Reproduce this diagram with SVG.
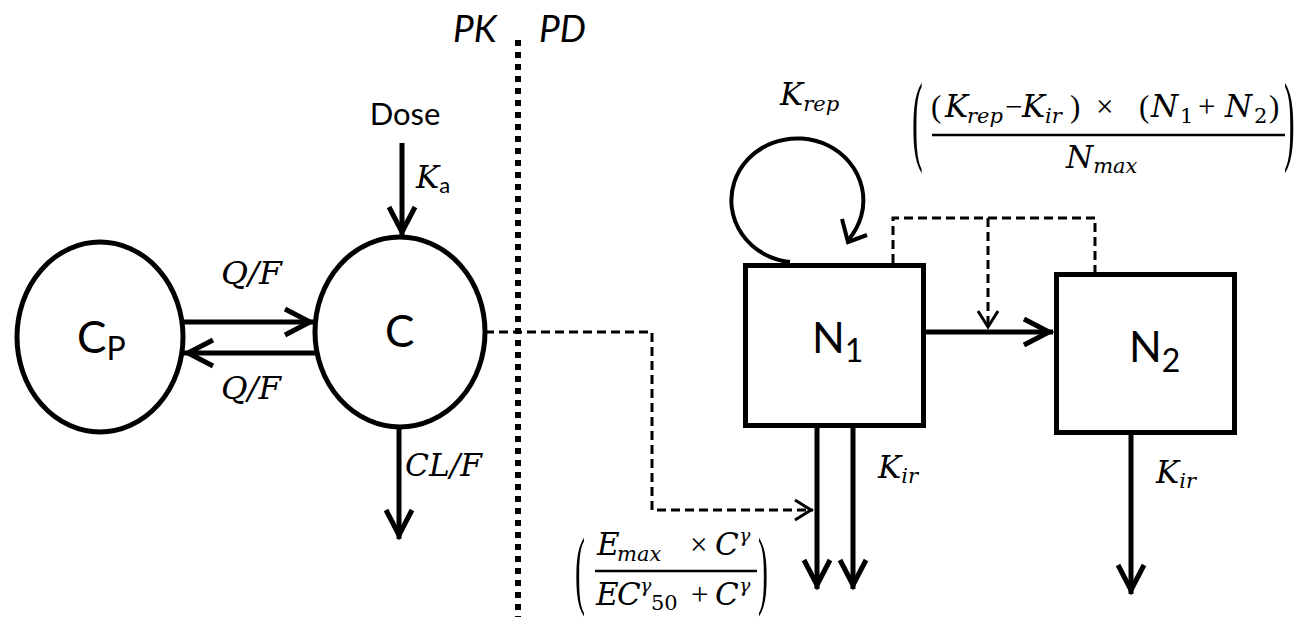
<svg xmlns="http://www.w3.org/2000/svg" width="1296" height="617" viewBox="0 0 1296 617">
<style>
.ln{fill:none;stroke:#000;stroke-width:5}
.dash{fill:none;stroke:#000;stroke-width:3;stroke-dasharray:9 5}
.dot{fill:none;stroke:#000;stroke-width:6;stroke-dasharray:6 6}
.shape{fill:#fff;stroke:#000;stroke-width:5}
.lbl{font-family:Lato,"Open Sans",sans-serif;fill:#000}
.m{font-family:"DejaVu Serif","Liberation Serif",serif;font-style:italic;fill:#000;font-size:31px}
.p{font-family:"Liberation Serif",serif;font-style:normal;fill:#000}
.u{font-style:normal}
.s{font-size:21px}
</style>
<defs>
<marker id="ah" viewBox="-30 -18 38 36" refX="4" refY="0" markerWidth="38" markerHeight="36" markerUnits="userSpaceOnUse" orient="auto">
<path d="M-25,-13 L0,0 L-25,13" fill="none" stroke="#000" stroke-width="5"/>
</marker>
<marker id="ahs" viewBox="-22 -14 28 28" refX="2" refY="0" markerWidth="28" markerHeight="28" markerUnits="userSpaceOnUse" orient="auto">
<path d="M-16,-10 L0,0 L-16,10" fill="none" stroke="#000" stroke-width="3"/>
</marker>
</defs>
<rect width="1296" height="617" fill="#fff"/>

<g id="divider">
<line class="dot" x1="518" y1="40" x2="518" y2="617"/>
<text class="lbl" x="453" y="42" font-size="37" font-style="italic">PK</text>
<text class="lbl" x="539" y="42" font-size="37" font-style="italic">PD</text>
</g>

<g id="connectors">
<line class="ln" x1="402" y1="143" x2="402" y2="236" marker-end="url(#ah)"/>
<line class="ln" x1="182" y1="322" x2="314" y2="322" marker-end="url(#ah)"/>
<line class="ln" x1="317" y1="353" x2="184" y2="353" marker-end="url(#ah)"/>
<line class="ln" x1="399" y1="427" x2="399" y2="539" marker-end="url(#ah)"/>
<line class="ln" x1="925" y1="332" x2="1053" y2="332" marker-end="url(#ah)"/>
<line class="ln" x1="817" y1="428" x2="817" y2="589" marker-end="url(#ah)"/>
<line class="ln" x1="853" y1="428" x2="853" y2="589" marker-end="url(#ah)"/>
<line class="ln" x1="1131" y1="435" x2="1131" y2="594" marker-end="url(#ah)"/>
<path class="dash" d="M485,332 H652 V510 H813" marker-end="url(#ahs)"/>
<path class="dash" d="M893,263 V218 H1095 V272"/>
<path class="dash" d="M988,218 V329" marker-end="url(#ahs)"/>
<path d="M790,262 A66,62 0 1 1 849,239" fill="none" stroke="#000" stroke-width="4"/>
<path d="M842,219 L848,242 L867,235" fill="none" stroke="#000" stroke-width="4"/>
</g>

<g id="dose">
<text class="lbl" x="405" y="125" font-size="31" text-anchor="middle">Dose</text>
<text class="m" x="416" y="188">K<tspan class="lbl u" font-size="22" dy="5">a</tspan></text>
</g>

<g id="node-cp">
<ellipse class="shape" cx="100" cy="337" rx="83" ry="95"/>
<text class="lbl" x="77" y="353" font-size="44">C<tspan font-size="32" dy="7">P</tspan></text>
</g>

<g id="node-c">
<ellipse class="shape" cx="400" cy="332" rx="85" ry="95"/>
<text class="lbl" x="385" y="347" font-size="44">C</text>
</g>

<g id="labels-pk">
<text class="m" x="221" y="284" textLength="61" lengthAdjust="spacingAndGlyphs">Q/F</text>
<text class="m" x="221" y="399" textLength="60" lengthAdjust="spacingAndGlyphs">Q/F</text>
<text class="m" x="405" y="476" textLength="77" lengthAdjust="spacingAndGlyphs">CL/F</text>
</g>

<g id="node-n1">
<rect class="shape" x="745.5" y="265.5" width="178" height="160"/>
<text class="lbl" x="812" y="353" font-size="43">N<tspan font-size="32" dy="9">1</tspan></text>
</g>

<g id="node-n2">
<rect class="shape" x="1056.5" y="274.5" width="178" height="158"/>
<text class="lbl" x="1129" y="362" font-size="43">N<tspan font-size="32" dy="10">2</tspan></text>
</g>

<g id="labels-pd">
<text class="m" x="780" y="105">K<tspan class="s" dy="6">rep</tspan></text>
<text class="m" x="878" y="478">K<tspan class="s" dy="5">ir</tspan></text>
<text class="m" x="1156" y="483">K<tspan class="s" dy="5">ir</tspan></text>
</g>

<g id="formula-growth">
<text class="p" font-size="32" transform="translate(912,152) scale(1,3.1)">(</text>
<text class="m" x="931" y="117"><tspan class="p">(</tspan><tspan x="945">K</tspan><tspan class="s" x="967" dy="6">rep</tspan><tspan class="p" x="1005" dy="-6">−</tspan><tspan x="1022">K</tspan><tspan class="s" x="1045" dy="6">ir</tspan><tspan class="p" x="1070" dy="-6">)</tspan><tspan class="p" x="1096">×</tspan><tspan class="p" x="1139">(</tspan><tspan x="1151">N</tspan><tspan class="s u" x="1180" dy="6">1</tspan><tspan class="p" x="1198" dy="-6">+</tspan><tspan x="1225">N</tspan><tspan class="s u" x="1254" dy="6">2</tspan><tspan class="p" x="1269" dy="-6">)</tspan></text>
<line x1="932" y1="135" x2="1285" y2="135" stroke="#000" stroke-width="2.5"/>
<text class="m" x="1066" y="168">N<tspan class="s" dy="5">max</tspan></text>
<text class="p" font-size="32" transform="translate(1284,152) scale(1,3.1)">)</text>
</g>

<g id="formula-effect">
<text class="p" font-size="30" transform="translate(575,598) scale(1,2.9)">(</text>
<text class="m" x="597" y="555">E<tspan class="s" x="617" dy="6">max</tspan><tspan class="p" x="690" dy="-6">×</tspan><tspan x="715">C</tspan><tspan font-size="19" x="739" dy="-13">γ</tspan></text>
<line x1="595" y1="571" x2="757" y2="571" stroke="#000" stroke-width="2.5"/>
<text class="m" x="596" y="605">E<tspan x="617">C</tspan><tspan font-size="19" x="640" dy="-13">γ</tspan><tspan class="s u" x="651" dy="18">50</tspan><tspan class="p" x="691" dy="-5">+</tspan><tspan x="715">C</tspan><tspan font-size="19" x="739" dy="-13">γ</tspan></text>
<text class="p" font-size="30" transform="translate(758,598) scale(1,2.9)">)</text>
</g>
</svg>
